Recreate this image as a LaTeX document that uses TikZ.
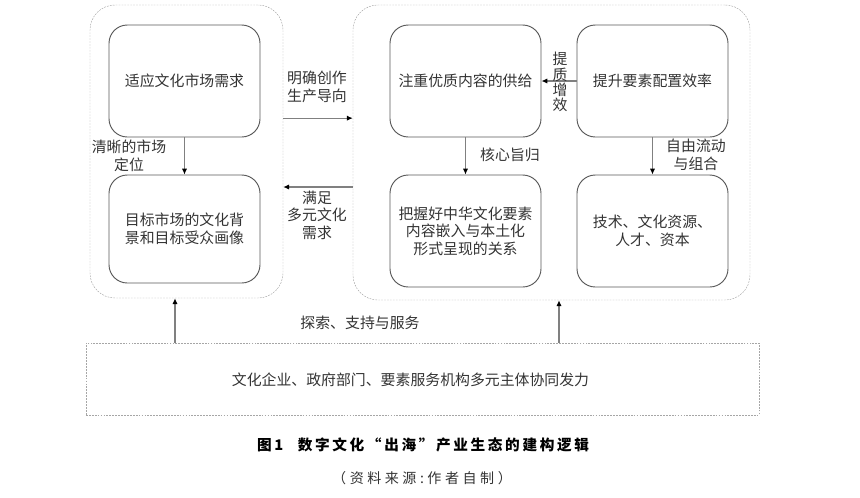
\documentclass[tikz,border=0pt]{standalone}
\usepackage{fontspec}
\setmainfont{Noto Sans CJK SC}
\usetikzlibrary{arrows.meta}
\newcommand{\px}{0.03cm}

\begin{document}
\begin{tikzpicture}[x=\px, y=-\px,
    every node/.style={text=black!80, font=\fontsize{12.7pt}{15pt}\selectfont},
    zone/.style={draw=black!35, dash pattern=on 1.5pt off 1pt, rounded corners=0.75cm, inner sep=0pt},
    cell/.style={draw=black!65, line width=0.8pt, rounded corners=0.55cm, minimum width=4.53cm, minimum height=3.36cm, align=center, inner sep=0pt},
    arr/.style={draw=black!50, line width=0.9pt, -{Latex[length=5pt,width=4.5pt,color=black]}},
    lbl/.style={align=center}]
    \useasboundingbox (0,0) rectangle (860,497);

    % Outer frames
    \node[zone, minimum width=5.79cm, minimum height=8.79cm] (zoneL) at (186.5,151.5) {};
    \node[zone, minimum width=11.91cm, minimum height=8.85cm] (zoneR) at (551.5,152.5) {};
    \node[zone, rounded corners=0pt, minimum width=20.19cm, minimum height=2.16cm] (base) at (422.5,379) {};

    % Left side
    \node[cell] (demand) at (184.5,81) {适应文化市场需求};
    \node[cell, minimum height=3.24cm] (portrait) at (184.5,229) {目标市场的文化背\\景和目标受众画像};

    % Right side
    \node[cell] (supply) at (465.5,81) {注重优质内容的供给};
    \node[cell] (efficiency) at (652.5,81) {提升要素配置效率};
    \node[cell] (relation) at (465.5,231) {把握好中华文化要素\\内容嵌入与本土化\\形式呈现的关系};
    \node[cell] (factors) at (652.5,231) {技术、文化资源、\\人才、资本};

    % Arrows inside
    \draw[arr] (demand) -- (portrait);
    \draw[arr] (supply) -- (relation);
    \draw[arr] (efficiency) -- (factors);
    \draw[arr] (efficiency) -- (supply);

    % Arrows between frames
    \draw[arr] ([yshift=1cm]zoneL.east) -- ([yshift=1cm]zoneL.east -| zoneR.west);
    \draw[arr] ([yshift=-1.035cm]zoneR.west) -- ([yshift=-1.035cm]zoneR.west -| zoneL.east);
    \draw[arr] ([xshift=-0.345cm]zoneL.south |- base.north) -- ([xshift=-0.345cm]zoneL.south);
    \draw[arr] ([xshift=0.225cm]zoneR.south |- base.north) -- ([xshift=0.225cm]zoneR.south);

    % Labels
    \node[lbl] (posLbl) at (129,156) {清晰的市场\\定位};
    \node[lbl] (guideLbl) at (317,87) {明确创作\\生产导向};
    \node[lbl] (meetLbl) at (317,215) {满足\\多元文化\\需求};
    \node[lbl, font=\fontsize{12.7pt}{13pt}\selectfont] (qualityLbl) at (560,82) {提\\质\\增\\效};
    \node (coreLbl) at (510,155) {核心旨归};
    \node[lbl] (flowLbl) at (696,155) {自由流动\\与组合};
    \node (supportLbl) at (360,323) {探索、支持与服务};
    \node (baseTxt) at (410.5,380) {文化企业、政府部门、要素服务机构多元主体协同发力};

    % Caption
    \node[text=black, font=\fontsize{12.5pt}{15pt}\selectfont\bfseries\addfontfeature{LetterSpace=18}] (caption) at (423,445) {图1\hspace{1em}数字文化“出海”产业生态的建构逻辑};
    \node[font=\fontsize{12pt}{15pt}\selectfont\addfontfeature{LetterSpace=25}] (source) at (422,478) {（资料来源:作者自制）};
\end{tikzpicture}
\end{document}
